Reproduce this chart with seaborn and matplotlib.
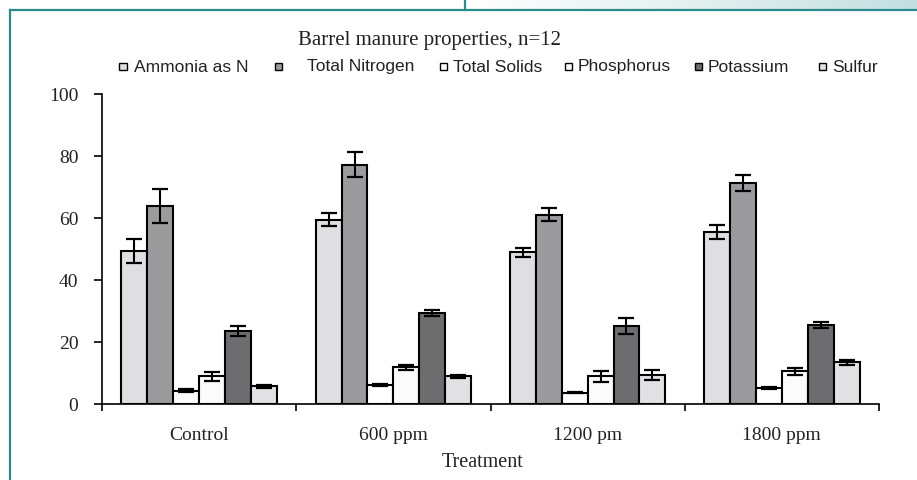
import pandas as pd
import matplotlib
matplotlib.use("Agg")
import matplotlib.pyplot as plt
import seaborn as sns
import numpy as np
from matplotlib.lines import Line2D
from matplotlib.patches import Rectangle
from matplotlib.colors import LinearSegmentedColormap

# =========================
# 数据
# =========================
treatments = ["Control", "600 ppm", "1200 pm", "1800 ppm"]
properties = ["Ammonia as N", "Total Nitrogen", "Total Solids", "Phosphorus", "Potassium", "Sulfur"]

ammonia = [49.4, 59.5, 48.9, 55.4]
total_n = [63.9, 77.2, 61.0, 71.3]
total_solids = [4.3, 6.2, 3.7, 5.3]
phosphorus = [8.9, 11.8, 8.9, 10.5]
potassium = [23.5, 29.3, 25.1, 25.4]
sulfur = [5.7, 8.9, 9.4, 13.4]

ammonia_err = [3.8, 2.2, 1.4, 2.2]
total_n_err = [5.6, 4.0, 2.1, 2.6]
total_solids_err = [0.4, 0.4, 0.3, 0.3]
phosphorus_err = [1.5, 0.8, 1.8, 1.1]
potassium_err = [1.7, 1.0, 2.5, 1.0]
sulfur_err = [0.5, 0.5, 1.6, 0.8]

yticks = [0, 20, 40, 60, 80, 100]

values = [ammonia, total_n, total_solids, phosphorus, potassium, sulfur]
errors = [ammonia_err, total_n_err, total_solids_err, phosphorus_err, potassium_err, sulfur_err]

rows = []
for prop, vals, errs in zip(properties, values, errors):
    for t, v, e in zip(treatments, vals, errs):
        rows.append({"Treatment": t, "Property": prop, "Value": v, "Err": e})
df = pd.DataFrame(rows)

colors = ["#dfdfe1", "#9b9b9e", "#ffffff", "#fbfbfb", "#6c6c70", "#e1e1e3"]

serif = "Liberation Serif"
sans = "Liberation Sans"

# =========================
# 画布
# =========================
W, H = 917, 481
fig = plt.figure(figsize=(W / 100, H / 100), dpi=100)
fig.patch.set_facecolor("white")

ax = fig.add_axes([102 / W, 1 - 405 / H, (879 - 102) / W, (405 - 95) / H])

sns.barplot(
    data=df, x="Treatment", y="Value", hue="Property",
    order=treatments, hue_order=properties, palette=colors,
    edgecolor="black", linewidth=1.5, errorbar=None,
    width=0.8, gap=0, legend=False, ax=ax
)

# 误差棒
for cont, prop in zip(ax.containers, properties):
    sub = df[df["Property"] == prop].set_index("Treatment").loc[treatments]
    xs = [b.get_x() + b.get_width() / 2 for b in cont]
    ax.errorbar(xs, sub["Value"], yerr=sub["Err"], fmt="none",
                ecolor="black", elinewidth=1.5, capsize=5.5, capthick=1.6, zorder=5)

# 坐标轴
ax.set_xlim(-0.5, 3.5)
ax.set_ylim(0, 100)
ax.set_yticks(yticks)
ax.set_xticks(range(len(treatments)))
ax.set_xticklabels(treatments)
ax.set_xticks(np.arange(-0.5, len(treatments), 1.0), minor=True)
ax.tick_params(axis="x", which="major", length=0, pad=16, labelsize=14, labelcolor="#222222")
ax.tick_params(axis="x", which="minor", length=5, width=1.2, direction="out")
ax.tick_params(axis="y", length=6, width=1.2, pad=11, labelsize=14, labelcolor="#222222")
for lab in ax.get_xticklabels() + ax.get_yticklabels():
    lab.set_fontfamily(serif)

ax.set_ylabel("")
ax.set_xlabel("Treatment", fontsize=14.5, fontfamily=serif, color="#222222")
ax.xaxis.set_label_coords(0.49, -0.187)
ax.xaxis.label.set_va("center")

for s in ["top", "right"]:
    ax.spines[s].set_visible(False)
for s in ["left", "bottom"]:
    ax.spines[s].set_color("black")
    ax.spines[s].set_linewidth(1.2)
ax.set_facecolor("white")

# 标题
fig.text(430 / W, 1 - 41 / H, "Barrel manure properties, n=12",
         ha="center", va="center", fontsize=15, fontfamily=serif, color="#222222")

# 图例（手动排布）
marker_x = [123, 278, 443, 568, 698, 822]
text_x = [134, 307, 453, 578, 708, 832]
leg_y = 67
sq = 7
for mx, tx, prop, c in zip(marker_x, text_x, properties, colors):
    fig.add_artist(Rectangle(((mx - sq / 2) / W, 1 - (leg_y + sq / 2) / H), sq / W, sq / H,
                             transform=fig.transFigure, facecolor=c, edgecolor="black", linewidth=1.0))
    fig.text(tx / W, 1 - leg_y / H, prop, ha="left", va="center",
             fontsize=12.5, fontfamily=sans, color="#222222")

# 外框
teal = "#2a8a8c"
fig.add_artist(Line2D([9.5 / W, 9.5 / W], [1 - 10.5 / H, 0], transform=fig.transFigure, color=teal, lw=1.6))
fig.add_artist(Line2D([9.5 / W, 1], [1 - 10.5 / H, 1 - 10.5 / H], transform=fig.transFigure, color=teal, lw=1.6))
fig.add_artist(Line2D([465 / W, 465 / W], [1, 1 - 10.5 / H], transform=fig.transFigure, color=teal, lw=1.6))

gax = fig.add_axes([466 / W, 1 - 9.5 / H, (W - 466) / W, 9.5 / H])
cmap = LinearSegmentedColormap.from_list("g", ["#ffffff", "#e4f0f0", "#c4dfe0"])
gax.imshow(np.linspace(0, 1, 256)[None, :], aspect="auto", cmap=cmap)
gax.axis("off")

fig.savefig("out.png", dpi=100)
